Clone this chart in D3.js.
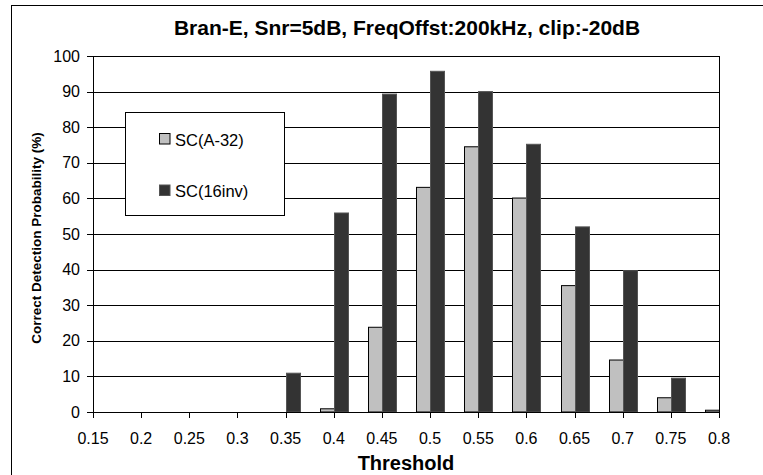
<!DOCTYPE html>
<html><head><meta charset="utf-8">
<script src="https://cdn.jsdelivr.net/npm/d3@7"></script>
<style>body{margin:0;background:#fff} text{font-family:Arial,"Liberation Sans",sans-serif;fill:#000}</style>
</head><body><svg id="c" width="763" height="475"></svg>
<script>
const thresholds = [0.15,0.2,0.25,0.3,0.35,0.4,0.45,0.5,0.55,0.6,0.65,0.7,0.75,0.8];
const tickLabels = ["0.15","0.2","0.25","0.3","0.35","0.4","0.45","0.5","0.55","0.6","0.65","0.7","0.75","0.8"];
const scA32 = [0,0,0,0,0,0.9,23.8,63.1,74.5,60.1,35.5,14.6,4.0,0.5];
const sc16inv = [0,0,0,0,10.9,55.9,89.3,95.7,90.0,75.2,52.0,39.7,9.5,0];
const yTicks = [0,10,20,30,40,50,60,70,80,90,100];
const seriesNames = ["SC(A-32)","SC(16inv)"];
const seriesColors = ["#c0c0c0","#333333"];
const titleText = "Bran-E, Snr=5dB, FreqOffst:200kHz, clip:-20dB";

const svg = d3.select("#c");
const L=93, R=719, T=56, B=412;
const x = d3.scaleLinear().domain([0.15,0.8]).range([L,R]);
const y = d3.scaleLinear().domain([0,100]).range([B,T]);
const bw = 14;

// outer frame
svg.append("rect").attr("x",11.5).attr("y",5.5).attr("width",820).attr("height",520)
  .attr("fill","#fff").attr("stroke","#000").attr("stroke-width",1);

// gridlines
svg.append("g").selectAll("line").data(yTicks).join("line")
  .attr("x1",L).attr("x2",R).attr("y1",d=>Math.round(y(d))+0.5).attr("y2",d=>Math.round(y(d))+0.5)
  .attr("stroke","#000").attr("stroke-width",1);
// right border
svg.append("line").attr("x1",R+0.5).attr("x2",R+0.5).attr("y1",T).attr("y2",B).attr("stroke","#000");

svg.append("defs").append("clipPath").attr("id","pc").append("rect")
  .attr("x",L).attr("y",T-2).attr("width",R-L+1).attr("height",B-T+3);

const gb = svg.append("g").attr("clip-path","url(#pc)");
[scA32, sc16inv].forEach((vals,si)=>{
  gb.append("g").selectAll("rect").data(vals.map((v,i)=>({t:thresholds[i],v}))).join("rect")
    .attr("x",d=>Math.round(x(d.t)) + (si===0?-bw:0)+0.5)
    .attr("y",d=>y(d.v))
    .attr("width",bw)
    .attr("height",d=>Math.max(0,y(0)-y(d.v)))
    .attr("fill",seriesColors[si])
    .attr("stroke",si===0?"#000":"#555").attr("stroke-width",1)
    .attr("display",d=>d.v>0?null:"none");
});

// axes
svg.append("line").attr("x1",L+0.5).attr("x2",L+0.5).attr("y1",T).attr("y2",B).attr("stroke","#000");
svg.append("line").attr("x1",L).attr("x2",R+1).attr("y1",B+0.5).attr("y2",B+0.5).attr("stroke","#000");

// y ticks
const yg = svg.append("g");
yg.selectAll("line").data(yTicks).join("line")
  .attr("x1",L-6).attr("x2",L).attr("y1",d=>Math.round(y(d))+0.5).attr("y2",d=>Math.round(y(d))+0.5).attr("stroke","#000");
yg.selectAll("text").data(yTicks).join("text")
  .attr("x",80).attr("y",d=>y(d)).attr("dy","0.35em").attr("text-anchor","end")
  .attr("font-size",16).text(d=>d);

// x ticks
const xg = svg.append("g");
xg.selectAll("line").data(thresholds).join("line")
  .attr("x1",d=>Math.round(x(d))+0.5).attr("x2",d=>Math.round(x(d))+0.5).attr("y1",B).attr("y2",B+6).attr("stroke","#000");
xg.selectAll("text").data(thresholds).join("text")
  .attr("x",d=>x(d)).attr("y",444).attr("text-anchor","middle")
  .attr("font-size",16).text((d,i)=>tickLabels[i]);

// axis titles
svg.append("text").attr("x",406).attr("y",470).attr("text-anchor","middle")
  .attr("font-size",20).attr("font-weight","bold").text("Threshold");
svg.append("text").attr("transform","translate(36,238) rotate(-90)").attr("dy","0.35em")
  .attr("text-anchor","middle").attr("font-size",13.5).attr("font-weight","bold")
  .text("Correct Detection Probability (%)");

// title
svg.append("text").attr("x",407).attr("y",35).attr("text-anchor","middle")
  .attr("font-size",21).attr("font-weight","bold").text(titleText);

// legend
const lg = svg.append("g");
lg.append("rect").attr("x",125.5).attr("y",112.5).attr("width",159).attr("height",103)
  .attr("fill","#fff").attr("stroke","#000");
const ly = [139, 190.5];
seriesNames.forEach((n,i)=>{
  lg.append("rect").attr("x",159.5).attr("y",ly[i]-5.5).attr("width",10.5).attr("height",10.5)
    .attr("fill",seriesColors[i]).attr("stroke",i===0?"#000":"#555");
  lg.append("text").attr("x",175).attr("y",ly[i]+1).attr("dy","0.35em").attr("font-size",16.5).text(n);
});
</script></body></html>
